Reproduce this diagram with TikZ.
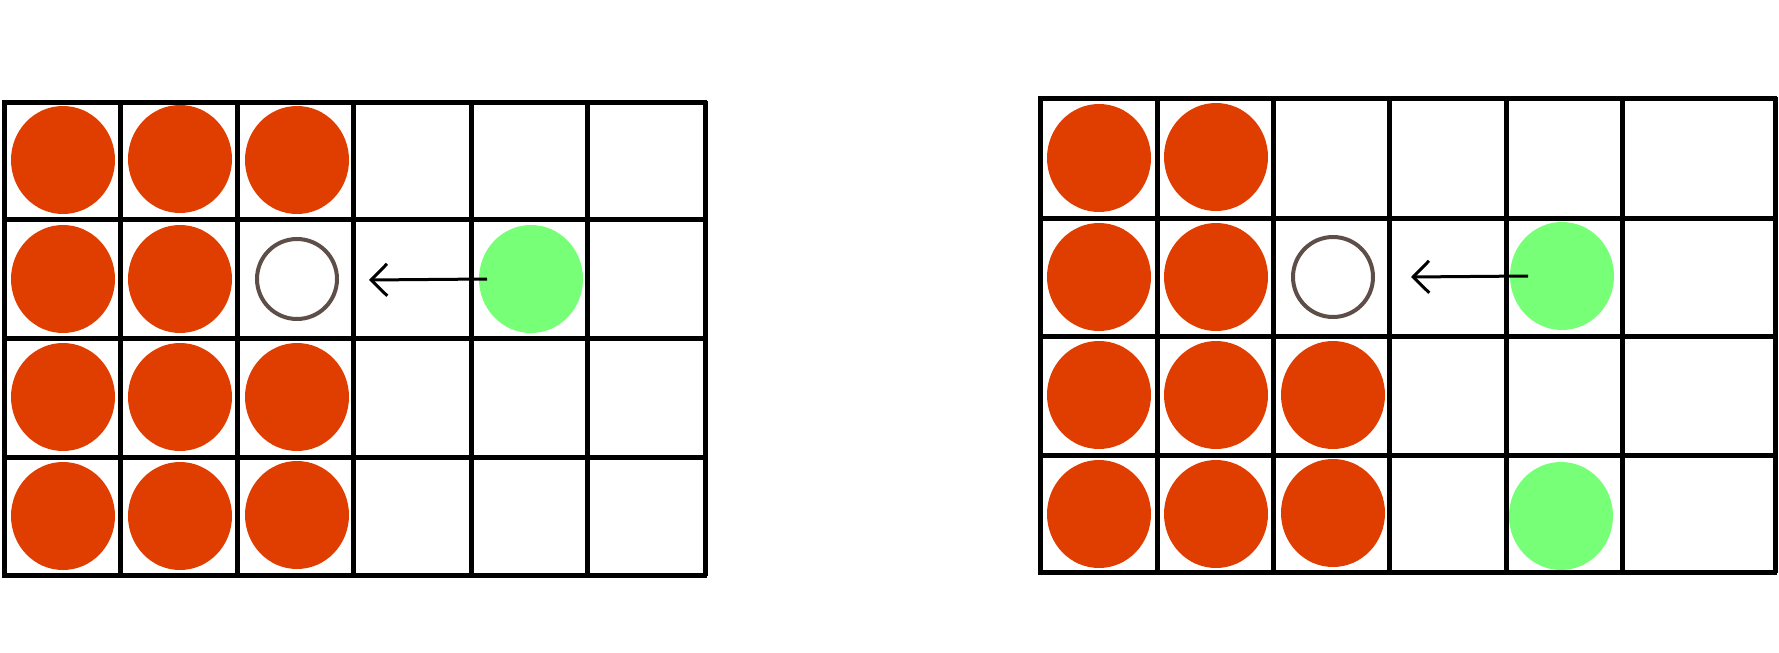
\documentclass[tikz,border=0pt]{standalone}
\usetikzlibrary{arrows.meta,shapes.geometric}
\definecolor{redc}{HTML}{E03E00}
\definecolor{greenc}{HTML}{77FF77}
\definecolor{holec}{HTML}{5E4E48}
\begin{document}
\begin{tikzpicture}[x=0.5pt,y=-0.5pt,
  gridline/.style={line width=2.5pt},
  redball/.style={fill=redc,draw=none,ellipse,minimum width=52pt,minimum height=54pt,inner sep=0},
  greenball/.style={fill=greenc,draw=none,ellipse,minimum width=52pt,minimum height=54pt,inner sep=0},
  hole/.style={draw=holec,line width=2pt,circle,minimum size=40pt,inner sep=0,fill=white},
  move/.style={line width=1.5pt,-{Straight Barb[length=8pt,width=16pt]}}]
\useasboundingbox (0,0) rectangle (1779,653);
% left board balls
\foreach \x/\y [count=\i] in {63/160,180/159,297/160,63/279,180/279,63/397,180/397,297/397,63/516,180/516,297/515}
  \node[redball] (l\i) at (\x,\y) {};
\node[hole] (lh) at (297,279) {};
\node[greenball] (lg) at (531,279) {};
% right board balls
\foreach \x/\y [count=\i] in {1099/158,1216/157,1099/277,1216/277,1099/395,1216/395,1333/395,1099/514,1216/514,1333/513}
  \node[redball] (r\i) at (\x,\y) {};
\node[hole] (rh) at (1333,277) {};
\node[greenball] (rg1) at (1562,276) {};
\node[greenball] (rg2) at (1561,516) {};
% grids
\foreach \x in {4,120,237,353,471,587,705} \draw[gridline] (\x,101) -- (\x,576);
\foreach \y in {102,219,338,457,575} \draw[gridline] (2,\y) -- (707,\y);
\foreach \x in {1040,1157,1273,1389,1506,1622,1775} \draw[gridline] (\x,97) -- (\x,573);
\foreach \y in {98,218,336,455,572} \draw[gridline] (1038,\y) -- (1777,\y);
% arrows
\coordinate (la) at (369,280);
\coordinate (ra) at (1411,277);
\coordinate (ls) at (487,279);
\coordinate (rs) at (1528,276);
\draw[move] (ls) -- (la);
\draw[move] (rs) -- (ra);
\end{tikzpicture}
\end{document}
